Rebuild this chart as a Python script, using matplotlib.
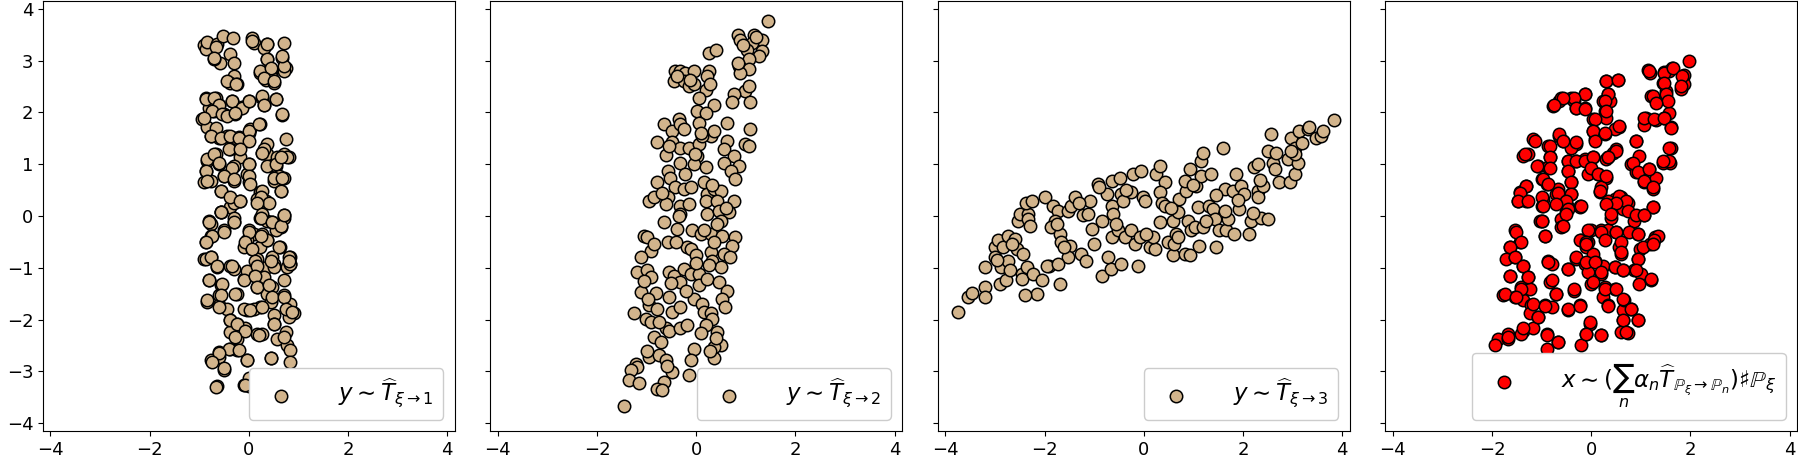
import numpy as np
import matplotlib
matplotlib.use('Agg')
import matplotlib.pyplot as plt

# panel 1: y ~ T_{xi->1}
x1 = [-0.9, -0.87, -0.84, -0.64, -0.52, -0.32, -0.37, -0.30, -0.59, -0.70, -0.30, -0.38, -0.23,
      0.07, 0.10, 0.37, 0.70, 0.67, 0.37, 0.74, 0.70, 0.23, 0.34, 0.44, 0.47, 0.50, 0.30,
      -0.87, -0.67, -0.94, -0.81, -0.60, -0.70, -0.5, -0.34, -0.27, -0.13, 0.0, 0.27, 0.30, 0.54,
      0.67, 0.23, 0.03, 0.0, -0.84, -0.77, -0.60, -0.44, -0.30, -0.20, -0.07, 0.74, 0.37,
      -0.67, -0.84, -0.87, -0.91, -0.77, -0.60, -0.37, -0.20, -0.17, -0.30, -0.5, -0.30, -0.57,
      0.0, -0.03, 0.0, 0.27, 0.37, 0.57, 0.70, 0.81, 0.44, 0.54, 0.60, 0.70, 0.50, 0.64, 0.23,
      0.17, 0.34, -0.17, -0.37, -0.30, -0.57,
      -0.81, -0.77, -0.30, -0.5, -0.77, -0.87, 0.23, 0.37, 0.47, 0.70, 0.64, 0.54, 0.0, 0.10,
      0.27, 0.37, -0.03, -0.10, 0.07, 0.23, 0.62, -0.91, -0.77, -0.64, -0.37, -0.30, 0.17, 0.47,
      0.50, 0.84, 0.84, 0.77, 0.37,
      -0.81, -0.57, -0.23, -0.60, -0.84, -0.60, -0.44, -0.10, -0.03, 0.13, 0.30, 0.17, 0.47,
      0.70, 0.37, 0.70, 0.44, 0.84, 0.23, -0.03, 0.10, 0.91, 0.50, 0.81,
      -0.37, -0.23, -0.07, -0.37, -0.23, 0.17, 0.27, 0.50, 0.74, 0.57, 0.77, 0.84, -0.37, -0.23,
      -0.60, -0.77, -0.60, -0.50, -0.03, 0.44, 0.84, -0.64, -0.10, 0.0, 0.0,
      # second pass, denser reading
      -0.67, -0.71, -0.44, -0.25, 0.07, 0.37, 0.36, 0.22, 0.44, 0.30, 0.50, 0.71, 0.67,
      -0.87, -0.71, -0.60, -0.74, -0.91, -0.54, -0.33, -0.13, 0.0, 0.27, 0.30, 0.54, 0.67,
      -0.44, -0.27, -0.67, -0.77, -0.57, -0.37, -0.20, 0.0, 0.20, 0.0, -0.40, -0.17, 0.30,
      0.27, -0.84, -0.71, -0.60, -0.33, 0.0, 0.37, 0.54, 0.77, 0.64, -0.87, -0.50, -0.84,
      -0.30, 0.0, 0.03, 0.50, 0.67, -0.57, -0.37, -0.17, 0.27, 0.24, 0.40, 0.64, 0.17, -0.57,
      -0.30, 0.27, 0.71,
      -0.81, -0.57, -0.30, -0.74, -0.87, -0.50, 0.0, 0.24, 0.47, 0.64, 0.71, -0.07, 0.07, 0.37,
      0.24, 0.60, -0.87, -0.77, -0.64, -0.33, 0.13, 0.17, 0.50, 0.81, 0.84, 0.81, 0.44,
      -0.81, -0.54, -0.27, -0.57, -0.84, -0.60, -0.10, 0.13, 0.17, 0.40, 0.47, 0.71, 0.74, 0.87,
      -0.10, 0.03, 0.27, -0.37, -0.23, -0.07, -0.27, 0.20, 0.50, 0.71, -0.40, -0.60, -0.74,
      -0.20, -0.03, -0.50, 0.44, -0.67, -0.07]
y1 = [3.3, 3.22, 3.35, 3.31, 3.47, 3.43, 3.12, 2.95, 2.95, 3.02, 2.70, 2.57, 2.54,
      3.44, 3.34, 3.31, 3.34, 3.05, 3.02, 2.86, 2.79, 2.76, 2.63, 2.76, 2.67, 2.57, 3.24,
      2.27, 2.28, 1.88, 2.09, 2.15, 2.03, 1.96, 2.22, 1.96, 2.10, 2.22, 2.28, 2.15, 2.25,
      1.95, 1.77, 1.67, 1.61, 1.72, 1.54, 1.51, 1.54, 1.51, 1.53, 1.45, 1.48, 1.38,
      1.19, 1.06, 0.87, 0.65, 0.68, 1.0, 1.29, 1.32, 1.13, 0.97, 0.78, 0.68, 0.49,
      1.0, 0.81, 0.65, 1.22, 1.19, 1.13, 1.19, 1.13, 0.97, 0.97, 0.78, 0.74, 0.68, 0.49, 0.46,
      0.33, 0.29, 0.29, 0.17, 0.26, 0.07,
      -0.09, -0.15, -0.12, -0.28, -0.38, -0.51, -0.03, -0.09, -0.12, -0.03, -0.22, -0.28, -0.28, -0.35,
      -0.35, -0.46, -0.47, -0.60, -0.63, -0.60, -0.60, -0.83, -0.79, -0.99, -0.96, -1.02, -0.83, -0.79,
      -0.92, -0.79, -0.92, -0.99, -0.99,
      -1.24, -1.33, -1.50, -1.53, -1.66, -1.72, -1.79, -1.21, -1.06, -1.15, -1.18, -1.37, -1.37,
      -1.24, -1.50, -1.53, -1.66, -1.69, -1.76, -1.82, -1.79, -1.88, -1.92, -1.95,
      -2.01, -2.08, -2.17, -2.24, -2.37, -2.27, -2.27, -2.08, -2.24, -2.37, -2.49, -2.59, -2.56, -2.59,
      -2.62, -2.78, -2.72, -2.97, -2.78, -2.75, -2.81, -3.29, -3.26, -3.13, -3.29,
      # second pass, denser reading
      3.27, 3.05, 2.60, 2.54, 3.37, 3.31, 3.02, 2.79, 2.86, 2.67, 2.60, 2.89, 3.08,
      2.25, 2.28, 2.15, 2.03, 1.90, 1.96, 2.22, 2.09, 2.22, 2.31, 2.15, 2.25, 1.96,
      1.93, 1.99, 1.70, 1.54, 1.51, 1.54, 1.51, 1.64, 1.77, 1.45, 1.29, 1.29, 1.29,
      1.22, 1.10, 1.19, 1.03, 0.93, 1.0, 0.97, 1.0, 1.13, 1.13, 0.87, 0.78, 0.68,
      0.71, 0.78, 0.62, 0.74, 0.74, 0.49, 0.36, 0.29, 0.49, 0.36, 0.26, 0.49, 0.26, 0.07,
      -0.03, 0.04, 0.01,
      -0.12, 0.07, -0.12, -0.38, -0.51, -0.31, -0.31, -0.03, -0.12, -0.19, 0.01, -0.51, -0.63, -0.47,
      -0.38, -0.60, -0.83, -0.79, -0.96, -0.96, -0.86, -0.96, -0.99, -0.79, -0.92, -0.86, -0.86,
      -1.24, -1.31, -1.50, -1.53, -1.63, -1.76, -1.24, -1.15, -1.37, -1.34, -1.56, -1.56, -1.79, -1.85,
      -1.79, -1.82, -1.76, -2.01, -2.08, -2.21, -2.33, -2.30, -2.08, -2.33, -2.56, -2.65, -2.82,
      -2.59, -2.78, -2.94, -2.75, -3.30, -3.26]

# panel 2: y ~ T_{xi->2}
x2 = [1.44, 0.84, 0.89, 1.16, 1.33, 1.13, 1.03, 1.33, 1.26, 1.06, 0.26, 0.39, 0.86, 1.06, 0.89,
      0.99, 1.06, 0.76, 0.72, 1.09, 1.09, 0.62,
      -0.42, -0.32, -0.22, -0.05, -0.45, -0.25, -0.15, -0.05, 0.26, 0.22, 0.19, 0.05, 0.36, 0.02,
      0.19, 0.05,
      -0.65, -0.48, -0.35, -0.32, -0.25, -0.79, -0.48, -0.32, -0.15, 0.05, 0.29, 0.36, 0.02, 0.62,
      0.56, 0.76, 0.99, 1.06, -0.62, -0.32, -0.05, 0.19, 0.56, 0.86, 0.69, 0.79,
      -0.58, -0.52, -0.22, -0.79, -0.42, -0.25, -0.95, -0.85, -0.58, -0.62, -0.32, -0.15, 0.15, 0.22,
      0.36, 0.49, 0.19, 0.42, 0.76, 0.22, 0.46, 0.65, 0.49, -0.32, -0.65, -0.38,
      -0.08, 0.09, 0.29, 0.15, 0.52, 0.79, 0.72, -0.58, -1.05, -0.99, -0.92, -1.12, -0.18, -0.11,
      -0.01, 0.29, 0.32, 0.56, 0.49, -1.19, -0.99, -0.92, -0.55, -0.45, -0.32, -0.25, -0.11, 0.05,
      0.05, 0.22, 0.46, 0.62, 0.52,
      -1.12, -0.82, -0.55, -0.95, -0.79, -0.48, -0.32, -0.05, 0.12, 0.15, 0.29, 0.32, -1.26, -1.02,
      -0.92, -0.62, -0.55, -0.32, -0.18, 0.19, 0.42, -0.85, -0.72, 0.49, 0.36, -0.05, -0.95, -0.75,
      -0.62, -0.11, 0.36, -1.22, -1.19, -1.32, -0.48, -0.15, -1.35, -1.15, -0.65, -0.79, -0.69, -1.46,
      # second pass
      -0.38, -0.12, 0.28, 0.12, -0.55, -0.02, 0.32, 0.85, 0.95, 1.2, -0.7, -0.1, 0.6, 0.42,
      -0.85, -0.4, 0.35, 0.68, -0.5, 0.0, 0.25, -0.98, -0.2, 0.58, -0.75, 0.1, 0.4, -1.0, -0.6,
      0.28, -1.05, -0.35, 0.1]
y2 = [3.76, 3.50, 3.40, 3.50, 3.39, 3.34, 3.21, 3.19, 3.08, 3.02, 3.15, 3.21, 2.89, 2.83, 2.76,
      2.41, 2.51, 2.35, 2.19, 2.19, 1.67, 1.80,
      2.79, 2.79, 2.76, 2.79, 2.60, 2.60, 2.51, 2.54, 2.79, 2.70, 2.44, 2.28, 2.15, 2.03,
      1.99, 1.80,
      1.77, 1.64, 1.87, 1.77, 1.67, 1.42, 1.42, 1.32, 1.32, 1.38, 1.54, 1.64, 1.16, 1.45,
      1.29, 1.16, 1.38, 1.35, 1.18, 1.03, 1.00, 0.94, 1.03, 0.97, 0.87, 0.71,
      0.87, 0.74, 0.81, 0.65, 0.55, 0.52, 0.29, 0.36, 0.36, 0.23, 0.20, 0.23, 0.65, 0.42,
      0.52, 0.49, 0.29, 0.29, 0.29, 0.04, 0.10, 0.07, -0.09, 0.04, -0.12, -0.25,
      -0.28, -0.35, -0.35, -0.28, -0.38, -0.41, -0.57, -0.51, -0.38, -0.41, -0.67, -0.79, -0.60, -0.63,
      -0.76, -0.70, -0.86, -0.73, -0.99, -1.08, -1.05, -1.18, -1.08, -1.15, -1.28, -1.02, -1.12, -1.12,
      -1.34, -1.21, -1.28, -1.44, -1.60,
      -1.47, -1.49, -1.56, -1.72, -1.79, -1.85, -1.76, -1.60, -1.69, -1.85, -1.88, -1.98, -1.88, -1.98,
      -2.04, -2.17, -2.21, -2.17, -2.11, -2.11, -2.24, -2.33, -2.43, -2.49, -2.53, -2.56, -2.72, -2.69,
      -2.78, -2.78, -2.75, -2.85, -2.91, -2.97, -3.01, -3.07, -3.17, -3.23, -3.20, -3.33, -3.36, -3.67,
      # second pass
      2.7, 2.62, 2.55, 1.55, 1.35, 1.2, 0.6, 2.95, 3.3, 3.45, 0.45, 0.55, 0.15, -0.15,
      -0.55, -0.5, -0.5, -0.8, -1.3, -0.9, -0.95, -1.6, -1.45, -1.75, -2.05, -2.25, -2.35, -2.6,
      -2.9, -2.6, -1.25, 0.0, 1.6]

# panel 3: y ~ T_{xi->3}
x3 = [-3.75, -3.54, -3.46, -3.21, -3.21, -3.20, -3.0, -2.93, -3.0, -2.87, -2.84, -2.73, -2.60,
      -2.56, -2.73, -2.90, -2.77, -2.43, -2.46, -2.46, -2.36, -2.23, -2.06, -2.16, -2.40, -2.54,
      -2.50, -2.33, -2.33, -2.38, -2.26, -1.99, -1.83, -1.72, -1.79, -1.86, -1.69, -1.66, -1.49,
      -1.52, -1.69, -1.92, -1.95, -1.72, -1.52, -1.46, -1.39, -1.26, -1.16, -1.22, -1.12, -1.09,
      -0.92, -1.05, -1.00, -0.85, -0.85, -0.72, -0.66, -0.75, -0.64, -0.61, -0.65, -0.48, -0.45,
      -0.42, -0.65, -0.52, -0.45, -0.38, -0.25, -0.21, -0.25, -0.18, -0.05, -0.11, -0.01, -0.08,
      0.02, 0.12, 0.22, 0.19, 0.25, 0.32, 0.42, 0.32, 0.36, 0.42, 0.32, 0.49, 0.59, 0.66, 0.62,
      0.59, 0.69, 0.72, 0.86, 0.83, 0.93, 0.89, 0.96, 0.83, 0.93, 1.03, 1.06, 1.09, 1.16, 1.19,
      1.16, 1.19, 1.12, 1.36, 1.32, 1.39, 1.43, 1.46, 1.52, 1.59, 1.63, 1.66, 1.69, 1.63, 1.79,
      1.83, 1.87, 1.93, 1.97, 2.03, 2.13, 2.17, 2.23, 2.30, 2.30, 2.30, 2.40, 2.37, 2.50, 2.50,
      2.57, 2.60, 2.67, 2.73, 2.90, 2.94, 2.97, 3.04, 3.04, 3.11, 3.14, 3.31, 3.34, 3.48, 3.58,
      3.61, 3.83, 3.04, 2.97,
      # second pass
      -2.95, -2.65, -2.3, -1.75, -1.3, -0.9, -0.35, 0.05, 0.55, 1.0, 1.45, 1.9, 2.35, -2.7,
      -1.6, -0.55, 0.7, 1.25, 2.2, 2.65, 3.2]
y3 = [-1.85, -1.56, -1.49, -1.37, -1.56, -0.99, -0.60, -0.47, -0.79, -0.99, -0.60, -0.38, -0.44,
      -0.63, -0.86, -1.31, -1.24, -0.73, -1.12, -1.21, -0.99, -1.12, -1.24, -1.50, -1.53, -0.09,
      0.04, 0.04, -0.06, 0.26, 0.28, 0.36, 0.20, 0.10, -0.09, -0.22, -0.35, -0.51, -0.57,
      -0.79, -1.31, -0.96, -0.96, -0.92, 0.10, 0.20, 0.36, -0.73, -0.86, 0.01, 0.04, 0.29,
      0.62, -0.25, -0.54, -0.09, -1.15, -0.79, -1.02, 0.42, 0.20, 0.04, 0.68, 0.74, 0.42,
      0.29, -0.41, -0.28, -0.92, -0.41, -0.28, 0.81, 0.46, -0.54, 0.87, -0.96, 0.36, -0.41,
      0.29, -0.60, -0.63, -0.41, 0.81, 0.97, 0.65, 0.46, 0.26, 0.20, -0.12, -0.51, -0.76, -0.35, -0.54,
      -0.09, 0.07, 0.33, 0.49, 0.68, 0.90, -0.09, -0.28, -0.73, -0.76, -0.22, 0.58, 0.17, 1.06, 1.22,
      0.78, -0.22, -0.57, 0.81, 0.20, 0.13, -0.06, -0.60, -0.28, 1.32, 0.52, -0.28, -0.06, 0.10, 0.49,
      -0.35, 0.81, 0.13, 0.58, 0.42, -0.35, -0.09, 0.94, 1.00, 0.49, 0.36, 0.58, -0.03, -0.06, 1.26,
      1.58, 1.03, 1.22, 0.65, 1.10, 0.65, 1.51, 1.32, 0.81, 1.03, 1.64, 1.67, 1.71, 1.51, 1.54,
      1.64, 1.85, 1.19, 1.26,
      # second pass
      -0.85, -0.55, -0.2, -0.15, 0.25, 0.55, 0.5, -0.35, 0.15, 0.6, 0.4, 0.3, 0.7, -1.05,
      -0.6, -0.15, -0.4, -0.1, 0.05, 0.9, 1.4]

# panel 4: barycenter samples
x4 = [1.98, 1.14, 1.19, 1.46, 1.62, 1.57, 1.88, 1.88, 1.81, 1.44, 1.51, 1.51, 1.21, 1.31, 1.57,
      1.47, 1.61, 1.11, 1.07, 1.31, 1.61, 1.59, 1.44, 0.90, 0.97, 0.80, 0.90, 1.17, 1.31, 1.07,
      1.24, 1.24, 1.07, 0.87, 0.94, 0.77, 1.29, 1.19, 0.99, 0.94, 0.87, 1.01, 0.97, 1.21, 0.80,
      0.94, 0.64, 0.60, 0.74, 0.64, 0.67,
      0.30, 0.54, 0.34, 0.37, 0.23, 0.27, 0.30, 0.03, 0.03, 0.07, 0.27, 0.57, 0.47, 0.50, 0.44,
      0.30, 0.34,
      -0.77, -0.64, -0.60, -0.40, -0.34, -0.13, -0.13, -0.30, -0.64, -0.57, -0.30, -0.40, -0.87,
      -0.84, -1.17, -1.37, -1.27, -1.07, -0.87, -0.47, -0.30, -0.13, 0.03, -0.07, 0.13, 0.30, -0.47,
      -0.40, -1.0, -0.90, -1.31, -1.44, -1.47, -1.31, -0.97, -1.0, -0.70, -0.67, -0.40, -0.47, -0.50,
      -0.23, -0.60, -0.60, -1.04, -0.94, -1.54, -1.44, -1.64, -1.71, -1.54, -1.37, -1.64, -1.27,
      -1.41, -1.24, -1.78, -1.54, -1.37, -1.21, -1.24, -1.07, -0.94, -0.80, -0.70, -0.84, -0.34,
      -0.47, -0.23, -0.87, -0.80, -0.47, -0.30, -0.13, -0.07, 0.0, 0.20, 0.27, 0.23, 0.34, 0.47,
      0.47, 0.64, 0.23, 0.07, -0.10, -0.20, 0.0, -0.07, 0.03, 0.20, 0.34, 0.50, 0.57, 0.60, 0.40,
      0.34, 0.47, 0.60, 0.74, 0.64, 0.17, 0.20, -0.23, -1.0, -0.03, -0.10, 0.20, -1.37, -1.17,
      -1.41, -0.90, -1.68, -1.88, -1.68, -1.94, -0.67, -0.20, -0.90,
      # second pass
      1.17, 1.47, 1.64, 1.84, 1.81, 1.47, 1.24, 1.51, 1.54, 1.31, 1.07, 1.27, 1.47, 1.61, 1.57,
      1.57, 0.90, 0.84, 0.94, 1.17, 1.44, 1.07, 1.24, 1.24,
      0.30, 0.54, 0.34, 0.27, 0.30, 0.07, 0.03, 0.07, 0.27, 0.57, 0.50, 0.34, -0.13, -0.34, -0.57,
      -0.74, -0.30, -0.13, -0.64, -0.57, -0.30, -0.84, -1.14, -1.34, -0.84, -0.47, -0.30, -0.13,
      0.03, -1.10, -0.84, -0.47, 0.0, 0.13, 0.30, -0.97, -0.87, -0.40, -1.31, -1.44, -1.47, -1.27,
      -1.0, -0.67, -0.40, -0.50, -0.97, -0.70, -0.47, -0.20, -0.50, 0.17, 0.34, 0.57, 0.70, 0.50,
      0.30, 0.40, 0.74, 0.90, 1.07, -1.0, -0.57, -1.51, -1.41, -0.94, -0.23, -0.07, 0.20, 0.50,
      0.94, 1.34, -0.10, 0.27, 0.60, 1.27,
      -1.64, -1.54, -1.37, -1.64, -1.27, -1.41, -1.74, -1.51, -1.17, -0.94, -1.07, -1.37, -1.67,
      -0.90, -0.67, -0.87, -0.80, -0.47, -0.70, -0.34, -0.47, -0.23, -0.30, -0.10, -0.10, 0.07,
      0.20, 0.03, 0.27, 0.34, 0.50, 0.47, 0.64, 0.60, 0.94, 0.90, 1.21, 1.04, 1.24, 0.64, 0.80,
      0.64, 0.94, 0.70, -0.03, -0.10, 0.20]
y4 = [2.99, 2.81, 2.76, 2.78, 2.86, 2.79, 2.73, 2.54, 2.46, 2.57, 2.42, 2.28, 2.31, 2.22, 1.99,
      1.90, 1.71, 1.90, 1.76, 1.85, 1.32, 1.03, 1.03, 1.45, 1.16, 1.00, 0.84, 0.90, 0.74, 0.65,
      0.52, 0.17, 0.01, -0.09, -0.35, -0.31, -0.41, -0.54, -0.63, -0.83, -1.05, -1.12, -1.31, -1.24, -1.79,
      -2.01, -2.01, -2.24, -2.25, -1.82, -1.63,
      2.60, 2.63, 2.35, 2.22, 2.22, 2.03, 1.90, 1.87, 1.64, 1.48, 1.58, 1.72, 1.67, 1.29, 1.22,
      1.10, 1.13,
      2.13, 2.22, 2.28, 2.28, 2.22, 2.35, 2.09, 2.09, 1.54, 1.45, 1.38, 1.32, 1.35,
      1.13, 1.48, 1.16, 1.19, 0.97, 0.94, 1.06, 1.06, 1.10, 1.13, 0.81, 0.81, 0.74, 0.87,
      0.65, 0.71, 0.62, 0.58, 0.46, 0.29, 0.29, 0.33, 0.20, 0.42, 0.52, 0.42, 0.17, 0.07,
      0.20, -0.06, -0.22, -0.09, -0.38, -0.28, -0.51, -0.60, -0.83, -0.79, -0.96, -1.15, -1.18,
      -1.37, -1.40, -1.52, -1.56, -1.63, -1.72, -1.88, -1.95, -1.72, -1.76, -1.50, -1.28, -1.44,
      -1.82, -1.72, -0.86, -0.92, -1.02, -0.83, -0.92, -1.08, -1.31, -1.12, -1.37, -1.56, -1.72, -1.40,
      -0.99, -1.05, -0.96, -0.86, -0.60, -0.47, -0.28, -0.51, -0.73, -0.28, -0.28, -0.31, -0.60, -0.73, -0.03,
      0.23, 0.33, 0.36, 0.26, 0.13, 0.46, 0.55, 0.17, -0.09, -2.08, -2.27, -2.30, -2.21, -2.17,
      -2.27, -2.27, -2.27, -2.37, -2.37, -2.49, -2.43, -2.49, -2.56,
      # second pass
      2.79, 2.76, 2.86, 2.70, 2.51, 2.57, 2.31, 2.35, 2.22, 2.18, 1.90, 1.87, 1.90, 1.70, 1.32,
      1.06, 1.45, 1.03, 0.84, 0.90, 1.06, 0.68, 0.55, 0.17,
      2.60, 2.63, 2.35, 2.22, 2.03, 1.87, 1.64, 1.45, 1.61, 1.74, 1.26, 1.13, 2.35, 2.28, 2.28,
      2.15, 2.09, 2.06, 1.58, 1.45, 1.42, 1.35, 1.45, 1.19, 1.13, 1.06, 1.06, 1.06,
      1.13, 0.97, 0.93, 0.87, 0.93, 0.81, 0.78, 0.71, 0.62, 0.65, 0.58, 0.45, 0.29, 0.29,
      0.36, 0.45, 0.42, 0.29, 0.20, 0.23, 0.13, 0.20, 0.04, 0.49, 0.29, 0.39, 0.29, 0.26,
      0.23, 0.04, 0.10, 0.01, 0.01, -0.09, -0.19, -0.31, -0.51, -0.38, -0.47, -0.28, -0.31, -0.31,
      -0.35, -0.38, -0.51, -0.47, -0.51, -0.47,
      -0.60, -0.80, -0.96, -1.15, -1.18, -1.40, -1.50, -1.56, -1.69, -1.73, -1.95, -2.17, -2.33,
      -2.30, -2.43, -0.89, -1.24, -1.02, -1.50, -1.40, -1.79, -1.73, -0.80, -0.89, -0.54, -0.89,
      -1.08, -1.28, -1.40, -1.73, -1.40, -0.99, -1.05, -0.70, -0.83, -1.05, -1.21, -0.60, -0.54, -1.60,
      -1.79, -2.01, -2.01, -2.24, -2.05, -2.27, -2.30]

labels = [r'$y \sim \widehat{T}_{\xi \to 1}$',
          r'$y \sim \widehat{T}_{\xi \to 2}$',
          r'$y \sim \widehat{T}_{\xi \to 3}$',
          r'$x \sim (\sum_n \alpha_n \widehat{T}_{\mathbb{P}_\xi \to \mathbb{P}_n})\sharp \mathbb{P}_\xi$']
colors = ['tan', 'tan', 'tan', 'red']
data = [(x1, y1), (x2, y2), (x3, y3), (x4, y4)]

fig, axes = plt.subplots(1, 4, figsize=(17.99, 4.62), dpi=100, sharey=True)
fig.subplots_adjust(left=0.0239, right=0.9989, bottom=0.067, top=0.998, wspace=0.087)

for ax, (xs, ys), lab, col in zip(axes, data, labels, colors):
    ax.scatter(xs, ys, s=80, c=col, edgecolors='black', linewidths=1.1, label=lab)
    ax.set_xlim(-4.15, 4.15)
    ax.set_ylim(-4.15, 4.15)
    ax.set_xticks([-4, -2, 0, 2, 4])
    ax.set_yticks(np.arange(-4, 5))
    ax.tick_params(labelsize=13)
    ax.legend(loc='lower right', fontsize=16.5, handletextpad=1.5, framealpha=1)

fig.savefig('out.png', dpi=100)
